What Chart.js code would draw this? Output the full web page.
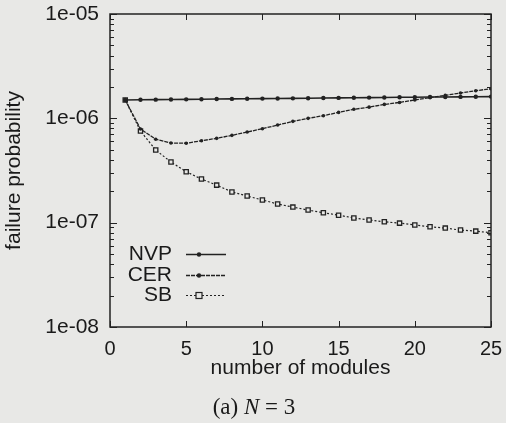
<!DOCTYPE html>
<html>
<head>
<meta charset="utf-8">
<script src="https://cdn.jsdelivr.net/npm/chart.js@4.4.0/dist/chart.umd.min.js"></script>
<style>
  html, body { margin: 0; padding: 0; background: #e8e8e6; }
</style>
</head>
<body>
<canvas id="chart" width="506" height="423"></canvas>
<script>
// Data
const modules = [1, 2, 3, 4, 5, 6, 7, 8, 9, 10, 11, 12, 13, 14, 15, 16, 17, 18, 19, 20, 21, 22, 23, 24, 25];
const nvp = [1.50e-6, 1.505e-6, 1.51e-6, 1.515e-6, 1.52e-6, 1.525e-6, 1.53e-6, 1.535e-6, 1.54e-6, 1.545e-6,
             1.55e-6, 1.555e-6, 1.56e-6, 1.565e-6, 1.57e-6, 1.575e-6, 1.58e-6, 1.585e-6, 1.59e-6, 1.595e-6,
             1.60e-6, 1.60e-6, 1.605e-6, 1.61e-6, 1.615e-6];
const cer = [1.50e-6, 7.9e-7, 6.3e-7, 5.8e-7, 5.77e-7, 6.1e-7, 6.43e-7, 6.87e-7, 7.39e-7, 7.95e-7,
             8.62e-7, 9.36e-7, 1.0e-6, 1.06e-6, 1.14e-6, 1.22e-6, 1.28e-6, 1.36e-6, 1.42e-6, 1.50e-6,
             1.58e-6, 1.66e-6, 1.75e-6, 1.84e-6, 1.92e-6];
const sb = [1.50e-6, 7.55e-7, 4.97e-7, 3.81e-7, 3.08e-7, 2.62e-7, 2.29e-7, 1.97e-7, 1.80e-7, 1.65e-7,
            1.51e-7, 1.41e-7, 1.32e-7, 1.245e-7, 1.18e-7, 1.11e-7, 1.06e-7, 1.02e-7, 9.9e-8, 9.5e-8,
            9.14e-8, 8.87e-8, 8.49e-8, 8.3e-8, 8.0e-8];
const seriesNames = ['NVP', 'CER', 'SB'];
const xTicks = [0, 5, 10, 15, 20, 25];
const yTicks = [1e-8, 1e-7, 1e-6, 1e-5];
const yTickLabels = ['1e-08', '1e-07', '1e-06', '1e-05'];

const bg = '#e8e8e6';
const ink = '#222222';
const sans = '"Liberation Sans", Arial, sans-serif';
const serif = '"Liberation Serif", "DejaVu Serif", serif';

function toPoints(values) {
    return modules.map((m, i) => ({ x: m, y: values[i] }));
}

// Frame, inward ticks, legend and caption
const framePlugin = {
    id: 'frame',
    afterDraw(chart) {
        const ctx = chart.ctx;
        const area = chart.chartArea;
        const xs = chart.scales.x;
        const ys = chart.scales.y;
        ctx.save();
        ctx.strokeStyle = ink;
        ctx.lineWidth = 1.5;
        ctx.strokeRect(area.left, area.top, area.right - area.left, area.bottom - area.top);

        ctx.lineWidth = 1;
        ctx.beginPath();
        xTicks.forEach(v => {
            const px = Math.round(xs.getPixelForValue(v)) + 0.5;
            ctx.moveTo(px, area.bottom); ctx.lineTo(px, area.bottom - 6);
            ctx.moveTo(px, area.top); ctx.lineTo(px, area.top + 6);
        });
        yTicks.forEach((d, i) => {
            const py = Math.round(ys.getPixelForValue(d)) + 0.5;
            ctx.moveTo(area.left, py); ctx.lineTo(area.left + 7, py);
            ctx.moveTo(area.right, py); ctx.lineTo(area.right - 7, py);
            if (i < yTicks.length - 1) {
                for (let m = 2; m <= 9; m++) {
                    const my = Math.round(ys.getPixelForValue(d * m)) + 0.5;
                    ctx.moveTo(area.left, my); ctx.lineTo(area.left + 4, my);
                    ctx.moveTo(area.right, my); ctx.lineTo(area.right - 4, my);
                }
            }
        });
        ctx.stroke();

        // legend inside the plot
        ctx.font = '21px ' + sans;
        ctx.textAlign = 'right';
        ctx.textBaseline = 'middle';
        const rowY = [254, 275, 295];
        chart.data.datasets.forEach((ds, i) => {
            const y = rowY[i];
            ctx.fillStyle = '#1a1a1a';
            ctx.fillText(seriesNames[i], 172, y);
            ctx.strokeStyle = ink;
            ctx.lineWidth = ds.borderWidth;
            ctx.setLineDash(ds.borderDash || []);
            ctx.beginPath();
            ctx.moveTo(186, y + 0.5); ctx.lineTo(226, y + 0.5);
            ctx.stroke();
            ctx.setLineDash([]);
            const cx = 199;
            if (ds.pointStyle === 'rect') {
                ctx.fillStyle = bg;
                ctx.fillRect(cx - 3, y - 2.5, 6, 6);
                ctx.lineWidth = 1.2;
                ctx.strokeRect(cx - 3, y - 2.5, 6, 6);
            } else {
                ctx.fillStyle = ink;
                ctx.beginPath();
                ctx.arc(cx, y + 0.5, 2.2, 0, Math.PI * 2);
                ctx.fill();
            }
        });

        // caption "(a) N = 3"
        ctx.fillStyle = '#1a1a1a';
        ctx.textAlign = 'left';
        ctx.textBaseline = 'alphabetic';
        const parts = [['(a) ', '23px ' + serif], ['N', 'italic 23px ' + serif], [' = 3', '23px ' + serif]];
        let total = 0;
        parts.forEach(p => { ctx.font = p[1]; total += ctx.measureText(p[0]).width; });
        let x = 254 - total / 2;
        parts.forEach(p => { ctx.font = p[1]; ctx.fillText(p[0], x, 414); x += ctx.measureText(p[0]).width; });
        ctx.restore();
    }
};

new Chart(document.getElementById('chart'), {
    type: 'line',
    data: {
        datasets: [
            {
                label: seriesNames[0], data: toPoints(nvp),
                borderColor: ink, borderWidth: 1.6,
                pointStyle: 'circle', pointRadius: 2.2, pointBackgroundColor: ink, pointBorderWidth: 0
            },
            {
                label: seriesNames[1], data: toPoints(cer),
                borderColor: ink, borderWidth: 1.3, borderDash: [4, 1],
                pointStyle: 'circle', pointRadius: 1.8, pointBackgroundColor: ink, pointBorderWidth: 0
            },
            {
                label: seriesNames[2], data: toPoints(sb),
                borderColor: ink, borderWidth: 1.2, borderDash: [2, 2],
                pointStyle: 'rect', pointRadius: 3, pointBackgroundColor: bg,
                pointBorderColor: ink, pointBorderWidth: 1.3
            }
        ]
    },
    options: {
        responsive: false,
        animation: false,
        devicePixelRatio: 1,
        layout: { padding: { top: 14, right: 15, left: 0, bottom: 0 } },
        plugins: { legend: { display: false }, tooltip: { enabled: false } },
        elements: { line: { tension: 0 } },
        scales: {
            x: {
                type: 'linear', min: 0, max: 25,
                grid: { display: false, drawTicks: false },
                border: { display: false },
                afterBuildTicks: s => { s.ticks = xTicks.map(v => ({ value: v })); },
                afterFit: s => { s.height = 96; s.paddingLeft = 0; s.paddingRight = 0; },
                ticks: {
                    padding: 10, maxRotation: 0, autoSkip: false,
                    color: '#1a1a1a', font: { family: sans, size: 20 },
                    callback: v => String(v)
                },
                title: {
                    display: true, text: 'number of modules', color: '#1a1a1a',
                    font: { family: sans, size: 21 }, padding: { top: 0, bottom: 42 }
                }
            },
            y: {
                type: 'logarithmic', min: 1e-8, max: 1e-5,
                grid: { display: false, drawTicks: false },
                border: { display: false },
                afterBuildTicks: s => { s.ticks = yTicks.map(v => ({ value: v })); },
                afterFit: s => { s.width = 110; s.paddingTop = 0; s.paddingBottom = 0; },
                ticks: {
                    padding: 11, autoSkip: false,
                    color: '#1a1a1a', font: { family: sans, size: 21 },
                    callback: (v, i) => yTickLabels[i]
                },
                title: {
                    display: true, text: 'failure probability', color: '#1a1a1a',
                    font: { family: sans, size: 21 }, padding: { top: 2, bottom: 0 }
                }
            }
        }
    },
    plugins: [framePlugin]
});
</script>
</body>
</html>
